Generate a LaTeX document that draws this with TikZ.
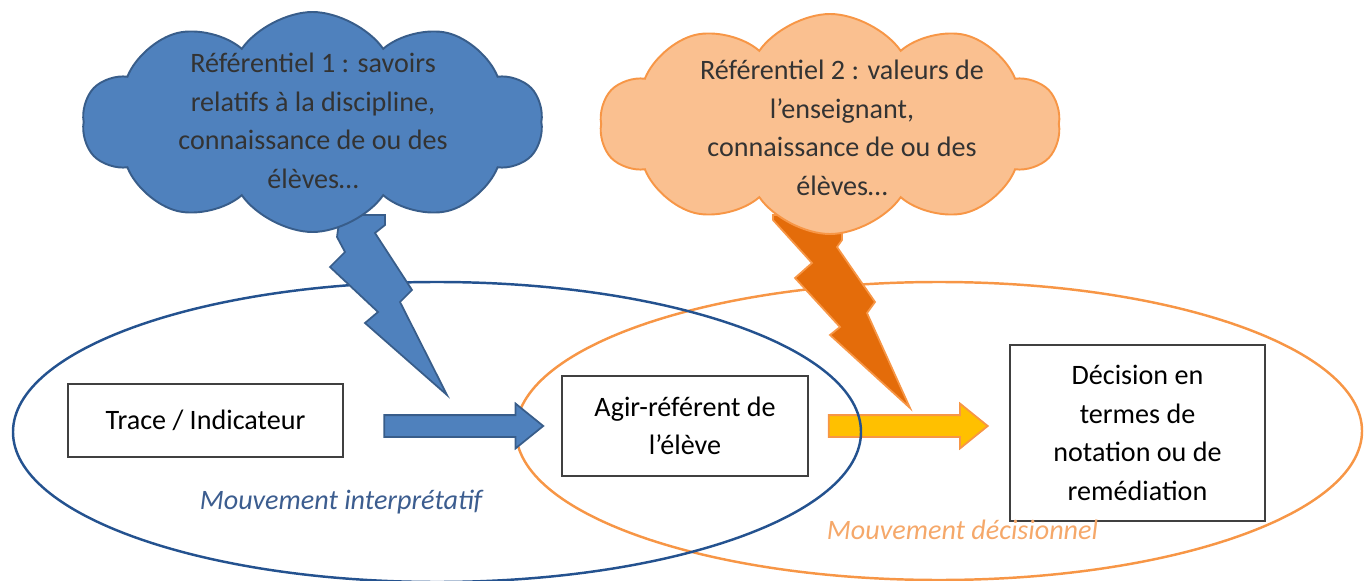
\documentclass[tikz,border=0pt]{standalone}
\usepackage{fontspec}
\setmainfont{Carlito}
\usepackage{tikz}
\usetikzlibrary{shapes.symbols}
\usetikzlibrary{shapes.arrows}
\usetikzlibrary{positioning}
\definecolor{bleu}{HTML}{4F81BD}
\definecolor{bleufonce}{HTML}{385D8A}
\definecolor{bleutrait}{HTML}{24528F}
\definecolor{bleutexte}{HTML}{3C5D8F}
\definecolor{orange}{HTML}{F79646}
\definecolor{orangeclair}{HTML}{FAC090}
\definecolor{orangefonce}{HTML}{E46C0A}
\definecolor{jaune}{HTML}{FFC000}
\definecolor{orangetexte}{HTML}{F5A86A}

\begin{document}
\begin{tikzpicture}[
    boite/.style={rectangle, draw=black!75, line width=0.8pt, fill=white, align=center, inner sep=0pt},
    nuage/.style={cloud, cloud puffs=10, cloud puff arc=110, cloud ignores aspect, line width=1.1pt, inner sep=0pt, minimum width=9.2cm, minimum height=4.4cm},
    fleche/.style={single arrow, single arrow head extend=0.23cm, single arrow tip angle=78, inner sep=0.2cm, minimum height=3.18cm, line width=1pt},
    eclair/.style={line width=1pt, line join=miter},
    mouvement/.style={font=\fontsize{16}{22}\selectfont\itshape},
    every node/.style={font=\fontsize{16}{22}\selectfont}
]
\useasboundingbox (0,0) rectangle (27.28,11.6);

% Mouvements (ellipses)
\draw[orange, line width=1.4pt] (18.78,2.98) ellipse [x radius=8.46, y radius=2.98];

% Fleches
\node[fleche, draw=bleufonce, fill=bleu] (fleche1) at (9.14,3.08) {};
\node[fleche, draw=orange, fill=jaune] (fleche2) at (18.03,3.08) {};

\draw[bleutrait, line width=1.4pt] (8.74,2.96) ellipse [x radius=8.48, y radius=3.0];

% Boites
\node[boite, minimum width=5.5cm, minimum height=1.46cm] (trace) at (4.11,3.19) {Trace / Indicateur};
\node[boite, minimum width=4.92cm, minimum height=2cm] (agir) at (13.7,3.08) {Agir-référent de\\l’élève};
\node[boite, minimum width=5.1cm, minimum height=3.52cm] (decision) at (22.75,2.94) {Décision en\\termes de\\notation ou de\\remédiation};

\node[mouvement, text=bleutexte] (interp) at (6.82,1.56) {Mouvement interprétatif};
\node[mouvement, text=orangetexte] (decis) at (19.25,1.0) {Mouvement décisionnel};

% Eclairs
\draw[eclair, draw=bleufonce, fill=bleu] (6.80,7.30) -- (6.74,6.86) -- (6.90,6.56) -- (6.60,6.26)
    -- (7.56,5.36) -- (7.30,5.14) -- (8.94,3.70) -- (8.00,5.56) -- (8.24,5.80)
    -- (7.50,6.94) -- (7.70,7.10) -- (7.70,7.30) -- cycle;
\draw[eclair, draw=orange, fill=orangefonce] (15.46,7.30) -- (15.46,7.20) -- (16.24,6.34) -- (15.90,6.04)
    -- (16.80,5.06) -- (16.60,4.90) -- (18.20,3.44) -- (17.34,5.34) -- (17.50,5.56)
    -- (16.74,6.66) -- (16.84,6.80) -- (16.84,7.30) -- cycle;

% Nuages
\node[nuage, draw=bleufonce, fill=bleu] (nuage1) at (6.25,9.16) {};
\node[nuage, draw=orange, fill=orangeclair] (nuage2) at (16.6,9.12) {};
\node[align=center, text=black!80] (ref1) at (6.26,9.18) {Référentiel 1 : savoirs\\relatifs à la discipline,\\connaissance de ou des\\élèves…};
\node[align=center, text=black!80] (ref2) at (16.84,9.04) {Référentiel 2 : valeurs de\\l’enseignant,\\connaissance de ou des\\élèves…};

\end{tikzpicture}
\end{document}
